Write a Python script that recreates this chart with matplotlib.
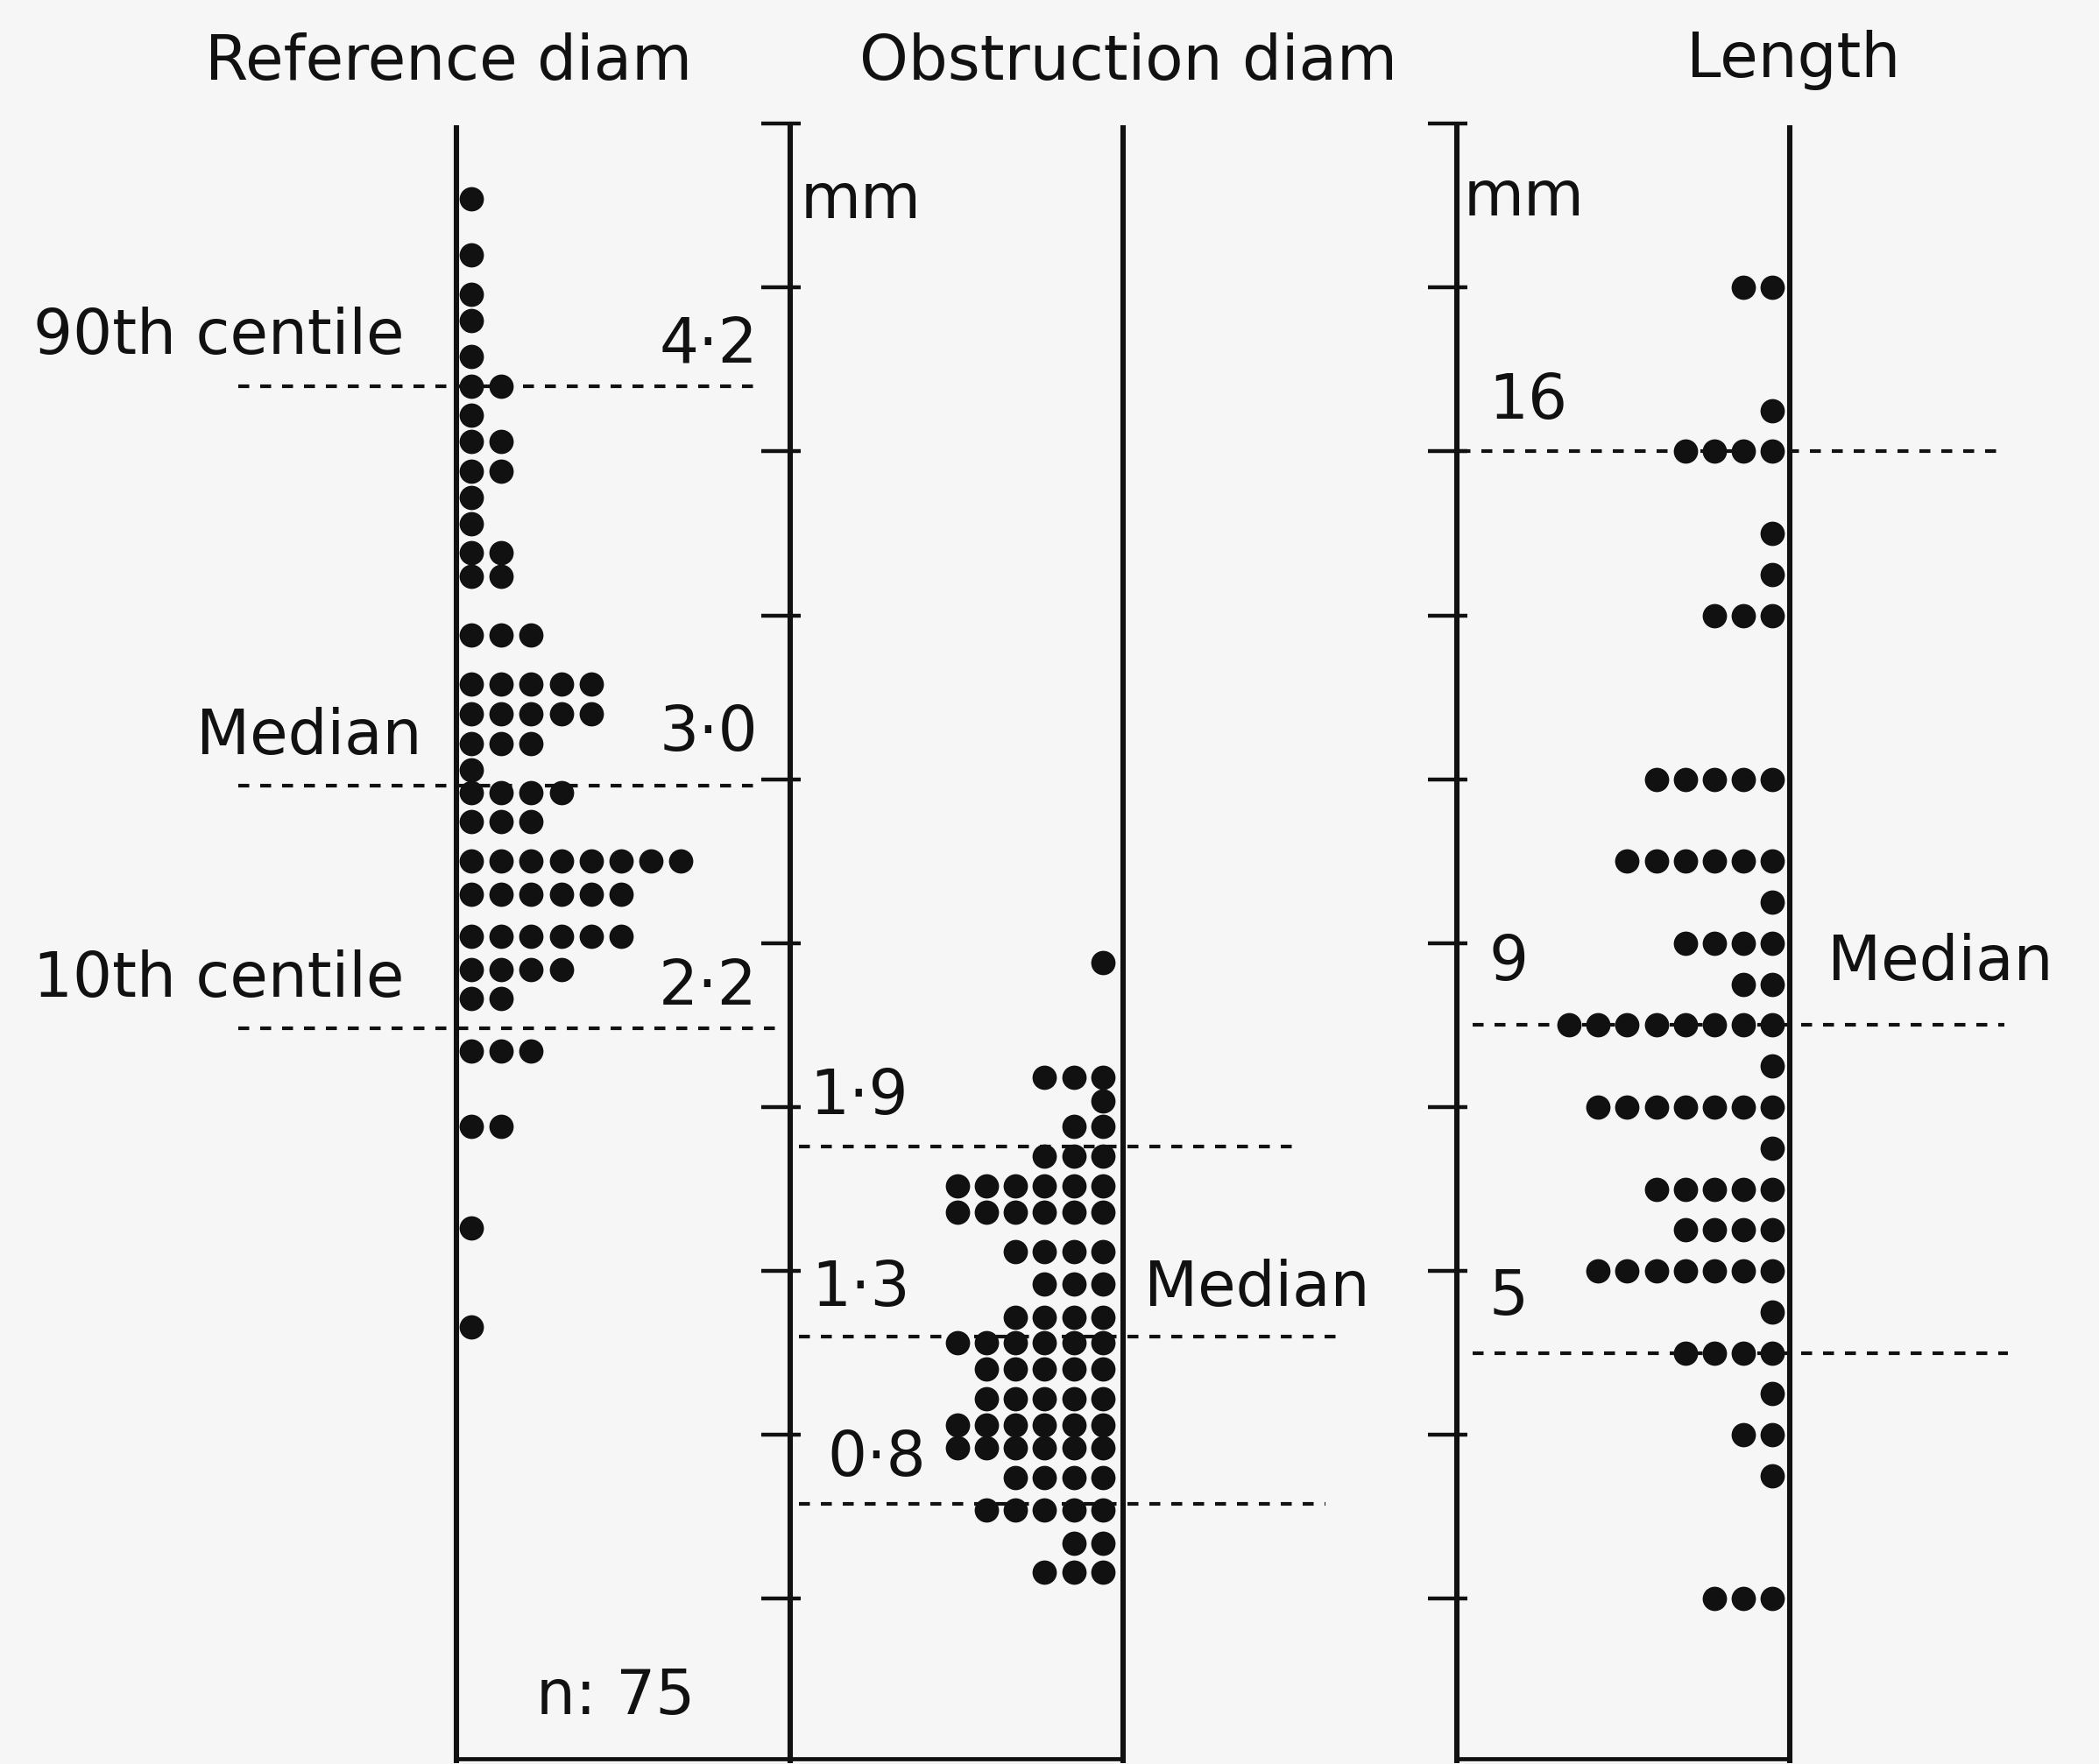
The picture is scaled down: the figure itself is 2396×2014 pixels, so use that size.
import matplotlib.pyplot as plt

# reference diameter (mm): one row of dots per value
ref_vals = [4.77, 4.60, 4.48, 4.40, 4.29, 4.20, 4.11, 4.03, 3.94, 3.86, 3.78, 3.69, 3.62,
            3.44, 3.29, 3.20, 3.11, 3.03, 2.96, 2.87, 2.75, 2.65, 2.52, 2.42, 2.33,
            2.17, 1.94, 1.63, 1.33]
ref_counts = [1, 1, 1, 1, 1, 2, 1, 2, 2, 1, 1, 2, 2,
              3, 5, 5, 3, 1, 4, 3, 8, 6, 6, 4, 2,
              3, 2, 1, 1]

# obstruction diameter (mm)
obs_vals = [2.44, 2.09, 2.02, 1.94, 1.85, 1.76, 1.68, 1.56, 1.46, 1.36,
            1.28, 1.20, 1.11, 1.03, 0.96, 0.87, 0.77, 0.67, 0.58]
obs_counts = [1, 3, 1, 2, 3, 6, 6, 4, 3, 4,
              6, 5, 5, 6, 6, 4, 5, 2, 3]

# length (mm)
len_vals = [18, 16.5, 16, 15, 14.5, 14, 12, 11, 10.5, 10, 9.5, 9,
            8.5, 8, 7.5, 7, 6.5, 6, 5.5, 5, 4.5, 4, 3.5, 2]
len_counts = [2, 1, 4, 1, 1, 3, 5, 6, 1, 4, 2, 8,
              1, 7, 1, 5, 4, 7, 1, 4, 1, 2, 1, 3]

# centile / median lines
ref_lines = [4.2, 2.98, 2.24]
ref_line_labels = ["4·2", "3·0", "2·2"]
ref_side_labels = ["90th centile", "Median", "10th centile"]
obs_lines = [1.88, 1.30, 0.79]
obs_line_labels = ["1·9", "1·3", "0·8"]
len_lines = [16, 9, 5]
len_line_labels = ["16", "9", "5"]

diam_ticks = [0.5 * k for k in range(1, 11)]
len_ticks = [2 * k for k in range(1, 11)]

INK = "#111111"
BG = "#f6f6f6"
W, H = 1568, 1319          # layout units (shrunk pixels)
Y0, Y1 = -0.004, 5.38      # mm shown from bottom to top
FS = 51

plt.rcParams["font.family"] = ["DejaVu Sans"]
fig = plt.figure(figsize=(23.96, 20.15), dpi=100, facecolor=BG)
ax = fig.add_axes([0, 0, 1, 1])
ax.set_xlim(0, W)
ax.set_ylim(Y0, Y1)
ax.axis("off")
ax2 = ax.twinx()
ax2.set_ylim(4 * Y0, 4 * Y1)
ax2.axis("off")

# panel base lines
x_ref, x_scale, x_obs, x_lscale, x_len = 341, 590, 839, 1088, 1337
top = 4.995
ax.vlines([x_ref, x_scale, x_obs, x_lscale, x_len], 0, top, color=INK, lw=4.4)
ax.hlines([0.012] * 3, [x_ref, x_scale, x_lscale], [x_scale, x_obs, x_len], color=INK, lw=3.4)

# scale ticks
ax.hlines(diam_ticks, x_scale - 21, x_scale + 8, color=INK, lw=3.2)
ax2.hlines(len_ticks, x_lscale - 21, x_lscale + 8, color=INK, lw=3.2)

dot = dict(s=400, color=INK, linewidths=0, zorder=3)
sp = 22.4
for v, n in zip(ref_vals, ref_counts):
    ax.scatter([x_ref + 11 + i * sp for i in range(n)], [v] * n, **dot)
for v, n in zip(obs_vals, obs_counts):
    ax.scatter([x_obs - 15 - i * 21.8 for i in range(n)], [v] * n, **dot)
for v, n in zip(len_vals, len_counts):
    ax2.scatter([x_len - 13 - i * 21.7 for i in range(n)], [v] * n, **dot)

dash = (0, (3.0, 3.0))
ax.hlines(ref_lines, 178, [568, 565, 585], color=INK, lw=3, linestyles=dash)
ax.hlines(obs_lines, 597, [970, 1003, 990], color=INK, lw=3, linestyles=dash)
ax2.hlines(len_lines, [1090, 1100, 1100], [1493, 1497, 1500], color=INK, lw=3, linestyles=dash)


def put(text, x, y, ha="left"):
    fig.text(x / W, 1 - y / H, text, ha=ha, va="center", fontsize=FS, color=INK)


put("Reference diam", 335, 47, "center")
put("Obstruction diam", 843, 47, "center")
put("Length", 1340, 45, "center")
put("mm", 598, 150)
put("mm", 1093, 148)
for lab, x, y in zip(ref_side_labels, [302, 315, 302], [252, 551, 732]):
    put(lab, x, y, "right")
for lab, y in zip(ref_line_labels, [258, 548, 738]):
    put(lab, 566, y, "right")
for lab, x, y in zip(obs_line_labels, [605, 606, 618], [820, 963, 1090]):
    put(lab, x, y)
put("Median", 855, 963)
for lab, y in zip(len_line_labels, [300, 720, 970]):
    put(lab, 1112, y)
put("Median", 1365, 720)
put("n: 75", 460, 1268, "center")

fig.savefig("out.png", dpi=100, facecolor=BG)
